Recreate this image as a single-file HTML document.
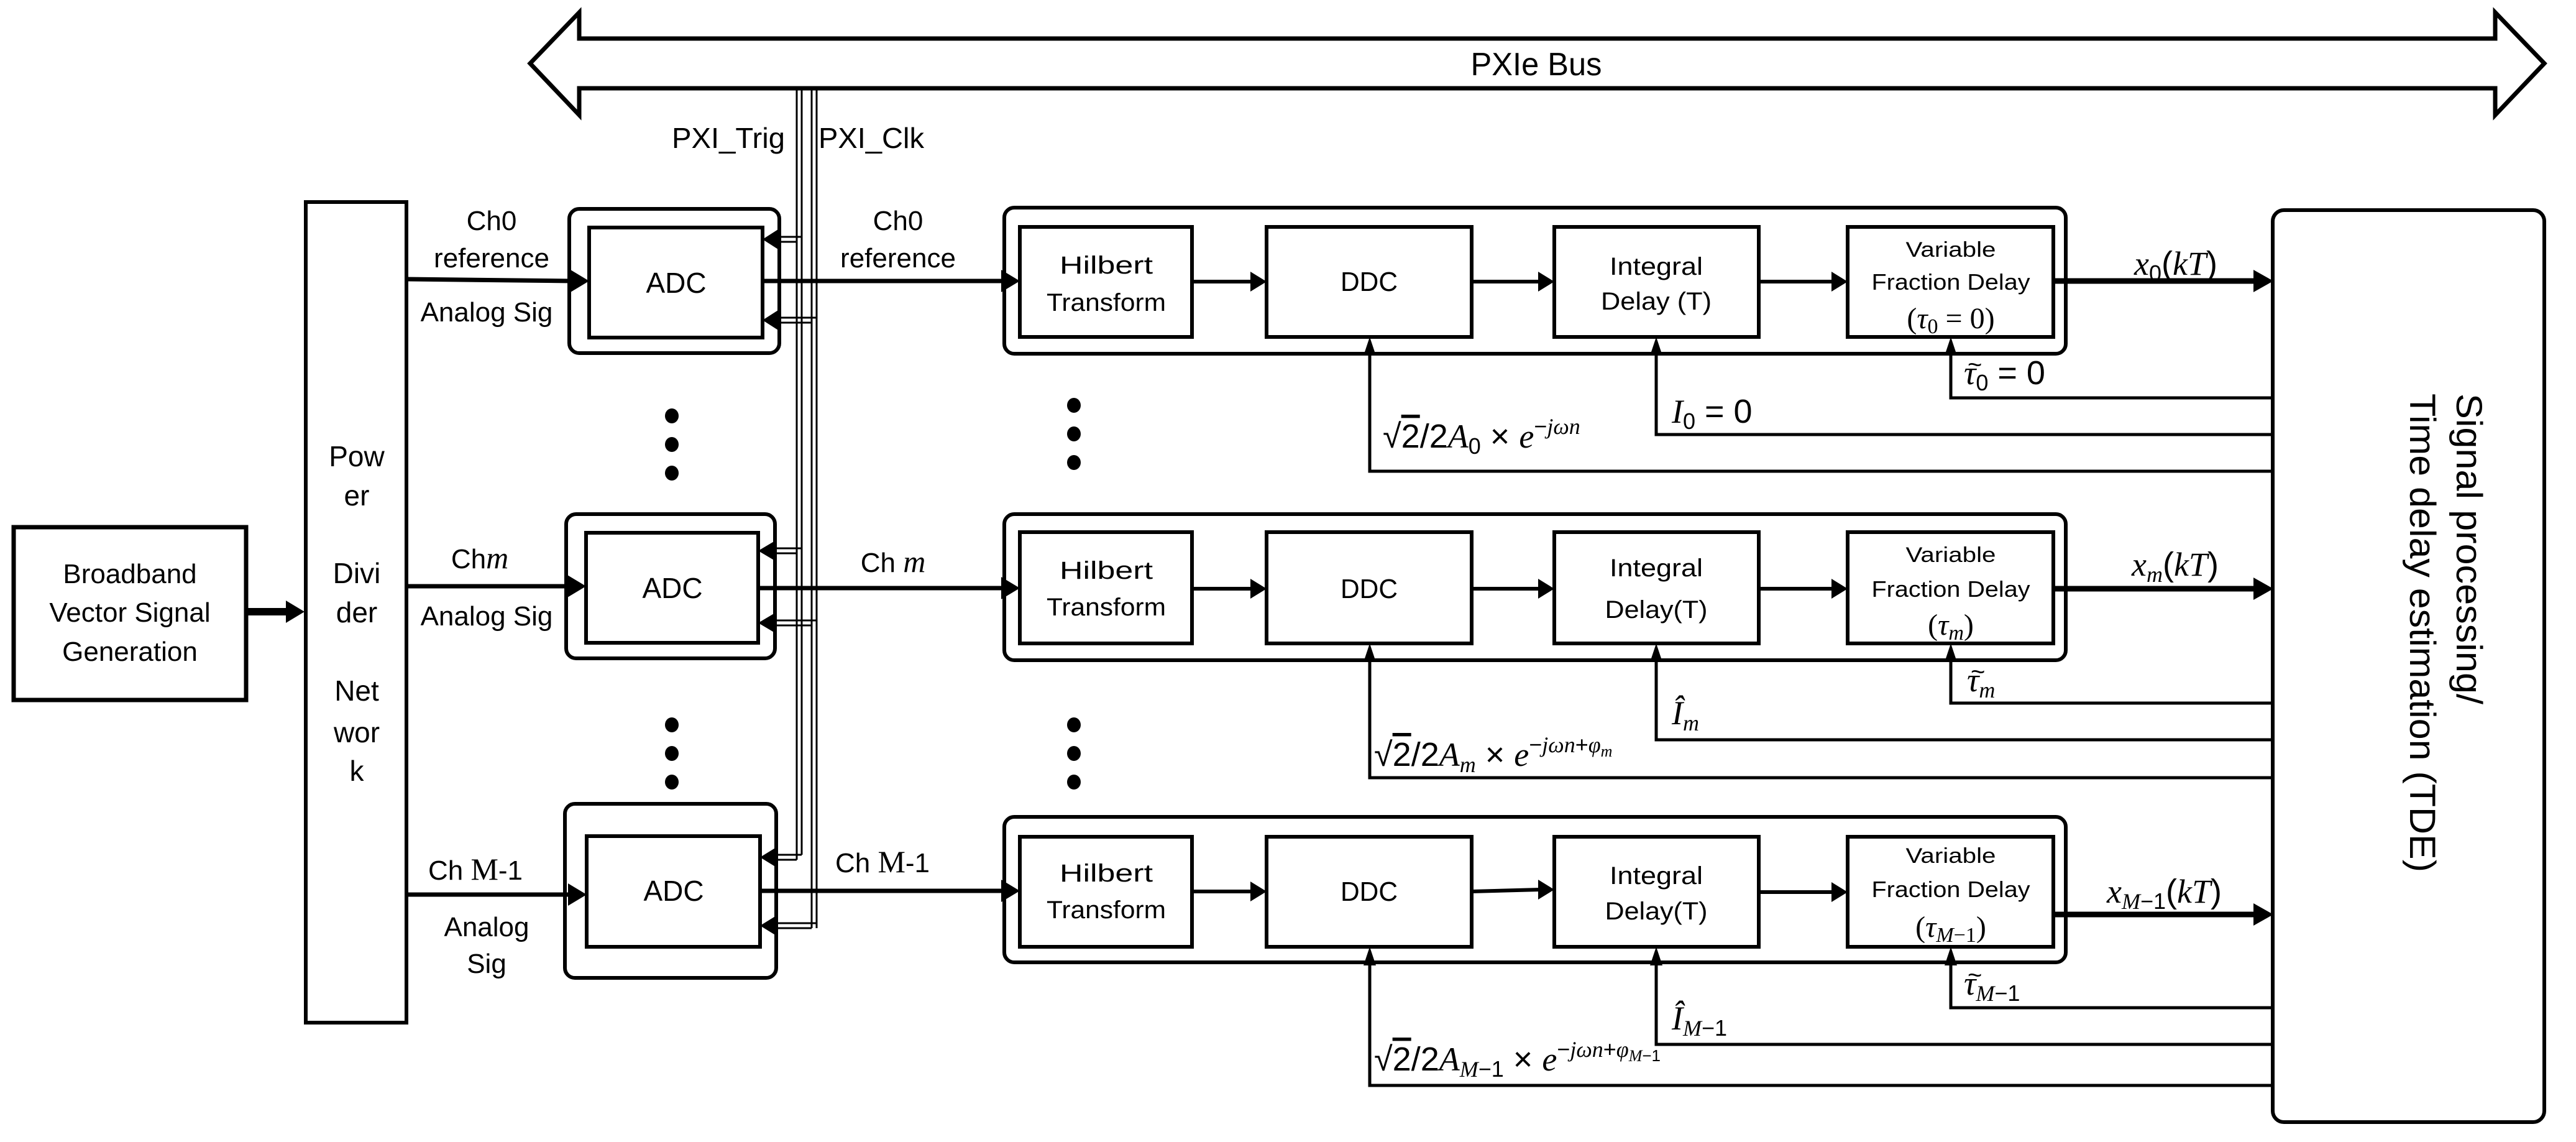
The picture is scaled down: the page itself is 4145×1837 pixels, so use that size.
<!DOCTYPE html>
<html><head><meta charset="utf-8"><style>
html,body{margin:0;padding:0;background:#fff;}
svg{display:block;}
text{font-family:"Liberation Sans",sans-serif;fill:#000;}
.m{font-family:"Liberation Serif",serif;font-style:italic;}
.up{font-family:"Liberation Serif",serif;font-style:normal;}
</style></head><body>
<svg width="4145" height="1837" viewBox="0 0 4145 1837" xmlns="http://www.w3.org/2000/svg">
<rect width="4145" height="1837" fill="#fff"/>
<polygon points="853,102 932,20 932,62 4015,62 4015,20 4094,102 4015,185 4015,142 932,142 932,185" fill="#fff" stroke="#000" stroke-width="7" stroke-linejoin="miter"/>
<text x="2472" y="121" font-size="52" text-anchor="middle" textLength="211" lengthAdjust="spacingAndGlyphs">PXIe Bus</text>
<text x="1172" y="238" font-size="46" text-anchor="middle" textLength="182" lengthAdjust="spacingAndGlyphs">PXI_Trig</text>
<text x="1402" y="238" font-size="46" text-anchor="middle" textLength="170" lengthAdjust="spacingAndGlyphs">PXI_Clk</text>

<g stroke="#000" stroke-width="3" fill="none">
<line x1="1282" y1="142" x2="1282" y2="1383"/>
<line x1="1290" y1="142" x2="1290" y2="1375"/>
<line x1="1306" y1="142" x2="1306" y2="1493"/>
<line x1="1314" y1="142" x2="1314" y2="1493"/>
</g>

<rect x="22" y="848" width="374" height="278" fill="none" stroke="#000" stroke-width="7"/>
<text x="209" y="938" font-size="44" text-anchor="middle">Broadband</text>
<text x="209" y="1000" font-size="44" text-anchor="middle">Vector Signal</text>
<text x="209" y="1063" font-size="44" text-anchor="middle">Generation</text>
<line x1="396" y1="984" x2="462" y2="984" stroke="#000" stroke-width="12"/>
<polygon points="490,984 460,966 460,1002" fill="#000"/>

<rect x="492" y="325" width="162" height="1320" fill="none" stroke="#000" stroke-width="6"/>
<g font-size="46" text-anchor="middle">
<text x="574" y="750">Pow</text>
<text x="574" y="813">er</text>
<text x="574" y="938">Divi</text>
<text x="574" y="1001">der</text>
<text x="574" y="1127">Net</text>
<text x="574" y="1194">wor</text>
<text x="574" y="1256">k</text>
</g>

<rect x="916" y="336" width="338" height="232" rx="16" fill="none" stroke="#000" stroke-width="6"/>
<rect x="948" y="366" width="279" height="177" fill="none" stroke="#000" stroke-width="6"/>
<text x="1088" y="471" font-size="46" text-anchor="middle">ADC</text>
<rect x="911" y="827" width="336" height="232" rx="16" fill="none" stroke="#000" stroke-width="6"/>
<rect x="943" y="857" width="277" height="177" fill="none" stroke="#000" stroke-width="6"/>
<text x="1082" y="962" font-size="46" text-anchor="middle">ADC</text>
<rect x="909" y="1293" width="340" height="280" rx="16" fill="none" stroke="#000" stroke-width="6"/>
<rect x="944" y="1345" width="279" height="178" fill="none" stroke="#000" stroke-width="6"/>
<text x="1084" y="1449" font-size="46" text-anchor="middle">ADC</text>

<g stroke="#000" stroke-width="7">
<line x1="654" y1="449" x2="920" y2="452"/>
<line x1="654" y1="943" x2="915" y2="943"/>
<line x1="654" y1="1439" x2="916" y2="1439"/>
</g>
<g fill="#000">
<polygon points="948,452 918,434 918,470"/>
<polygon points="943,943 913,925 913,961"/>
<polygon points="944,1439 914,1421 914,1457"/>
</g>
<g font-size="44" text-anchor="middle">
<text x="791" y="370">Ch0</text>
<text x="791" y="430">reference</text>
<text x="783" y="517">Analog Sig</text>
<text x="772" y="914">Ch<tspan class="m" font-size="50">m</tspan></text>
<text x="783" y="1006">Analog Sig</text>
<text x="765" y="1415">Ch <tspan class="up" font-size="50">M</tspan>-1</text>
<text x="783" y="1506">Analog</text>
<text x="783" y="1565">Sig</text>
<text x="1445" y="370">Ch0</text>
<text x="1445" y="430">reference</text>
<text x="1437" y="920">Ch <tspan class="m" font-size="50">m</tspan></text>
<text x="1420" y="1403">Ch <tspan class="up" font-size="50">M</tspan>-1</text>
</g>

<g stroke="#000" stroke-width="3" fill="none">
<line x1="1252" y1="381" x2="1290" y2="381"/><line x1="1252" y1="389" x2="1282" y2="389"/>
<line x1="1252" y1="511" x2="1314" y2="511"/><line x1="1252" y1="519" x2="1306" y2="519"/>
<line x1="1248" y1="882" x2="1290" y2="882"/><line x1="1248" y1="890" x2="1282" y2="890"/>
<line x1="1248" y1="998" x2="1314" y2="998"/><line x1="1248" y1="1006" x2="1306" y2="1006"/>
<line x1="1250" y1="1375" x2="1290" y2="1375"/><line x1="1250" y1="1383" x2="1282" y2="1383"/>
<line x1="1250" y1="1485" x2="1314" y2="1485"/><line x1="1250" y1="1493" x2="1306" y2="1493"/>
</g>
<g fill="#000">
<rect x="1240" y="381" width="14" height="8"/><rect x="1240" y="511" width="14" height="8"/>
<rect x="1236" y="882" width="14" height="8"/><rect x="1236" y="998" width="14" height="8"/>
<rect x="1238" y="1375" width="14" height="8"/><rect x="1238" y="1485" width="14" height="8"/>
<polygon points="1227,385 1252,369 1252,401"/>
<polygon points="1227,515 1252,499 1252,531"/>
<polygon points="1220,886 1247,870 1247,902"/>
<polygon points="1220,1002 1247,986 1247,1018"/>
<polygon points="1223,1379 1249,1363 1249,1395"/>
<polygon points="1223,1489 1249,1473 1249,1505"/>
</g>

<g stroke="#000" stroke-width="7">
<line x1="1227" y1="452" x2="1615" y2="452"/>
<line x1="1220" y1="946" x2="1615" y2="946"/>
<line x1="1223" y1="1433" x2="1615" y2="1433"/>
</g>
<g fill="#000">
<polygon points="1641,452 1611,434 1611,470"/>
<polygon points="1641,946 1611,928 1611,964"/>
<polygon points="1641,1433 1611,1415 1611,1451"/>
</g>

<g fill="#000">
<ellipse cx="1081" cy="669" rx="11" ry="12"/><ellipse cx="1081" cy="715" rx="11" ry="12"/><ellipse cx="1081" cy="761" rx="11" ry="12"/>
<ellipse cx="1081" cy="1166" rx="11" ry="12"/><ellipse cx="1081" cy="1212" rx="11" ry="12"/><ellipse cx="1081" cy="1258" rx="11" ry="12"/>
<ellipse cx="1728" cy="652" rx="11" ry="12"/><ellipse cx="1728" cy="698" rx="11" ry="12"/><ellipse cx="1728" cy="744" rx="11" ry="12"/>
<ellipse cx="1728" cy="1166" rx="11" ry="12"/><ellipse cx="1728" cy="1212" rx="11" ry="12"/><ellipse cx="1728" cy="1258" rx="11" ry="12"/>
</g>

<g fill="none" stroke="#000" stroke-width="6">
<rect x="1616" y="334" width="1708" height="235" rx="16"/>
<rect x="1641" y="365" width="277" height="177"/>
<rect x="2038" y="365" width="330" height="177"/>
<rect x="2501" y="365" width="329" height="177"/>
<rect x="2973" y="365" width="331" height="177"/>

<rect x="1616" y="827" width="1708" height="235" rx="16"/>
<rect x="1641" y="856" width="277" height="179"/>
<rect x="2038" y="856" width="330" height="179"/>
<rect x="2501" y="856" width="329" height="179"/>
<rect x="2973" y="856" width="331" height="179"/>

<rect x="1616" y="1314" width="1708" height="234" rx="16"/>
<rect x="1641" y="1346" width="277" height="177"/>
<rect x="2038" y="1346" width="330" height="177"/>
<rect x="2501" y="1346" width="329" height="177"/>
<rect x="2973" y="1346" width="331" height="177"/>
</g>
<g stroke="#000" stroke-width="6">
<line x1="1918" y1="453" x2="2015" y2="453"/><line x1="2368" y1="453" x2="2478" y2="453"/><line x1="2830" y1="453" x2="2950" y2="453"/>
<line x1="1918" y1="947" x2="2015" y2="947"/><line x1="2368" y1="947" x2="2478" y2="947"/><line x1="2830" y1="947" x2="2950" y2="947"/>
<line x1="1918" y1="1434" x2="2015" y2="1434"/><line x1="2368" y1="1434" x2="2478" y2="1431"/><line x1="2830" y1="1435" x2="2950" y2="1435"/>
</g>
<g fill="#000">
<polygon points="2038,453 2012,437 2012,469"/><polygon points="2501,453 2475,437 2475,469"/><polygon points="2973,453 2947,437 2947,469"/>
<polygon points="2038,947 2012,931 2012,963"/><polygon points="2501,947 2475,931 2475,963"/><polygon points="2973,947 2947,931 2947,963"/>
<polygon points="2038,1434 2012,1418 2012,1450"/><polygon points="2501,1431 2475,1415 2475,1447"/><polygon points="2973,1435 2947,1419 2947,1451"/>
</g>
<g font-size="40" text-anchor="middle">
<text x="1780" y="440" textLength="150" lengthAdjust="spacingAndGlyphs">Hilbert</text>
<text x="1780" y="500" textLength="192" lengthAdjust="spacingAndGlyphs">Transform</text>
<text x="2203" y="468" font-size="44" textLength="92" lengthAdjust="spacingAndGlyphs">DDC</text>
<text x="2665" y="442" textLength="150" lengthAdjust="spacingAndGlyphs">Integral</text>
<text x="2665" y="498" textLength="178" lengthAdjust="spacingAndGlyphs">Delay (T)</text>
<text x="3139" y="413" font-size="34" textLength="145" lengthAdjust="spacingAndGlyphs">Variable</text>
<text x="3139" y="466" font-size="36" textLength="255" lengthAdjust="spacingAndGlyphs">Fraction Delay</text>
<text x="3139" y="528" font-size="48" class="up">(<tspan class="m">τ</tspan><tspan font-size="34" dy="8">0</tspan><tspan dy="-8"> = 0)</tspan></text>

<text x="1780" y="931" textLength="150" lengthAdjust="spacingAndGlyphs">Hilbert</text>
<text x="1780" y="990" textLength="192" lengthAdjust="spacingAndGlyphs">Transform</text>
<text x="2203" y="962" font-size="44" textLength="92" lengthAdjust="spacingAndGlyphs">DDC</text>
<text x="2665" y="927" textLength="150" lengthAdjust="spacingAndGlyphs">Integral</text>
<text x="2665" y="994" textLength="165" lengthAdjust="spacingAndGlyphs">Delay(T)</text>
<text x="3139" y="904" font-size="34" textLength="145" lengthAdjust="spacingAndGlyphs">Variable</text>
<text x="3139" y="960" font-size="36" textLength="255" lengthAdjust="spacingAndGlyphs">Fraction Delay</text>
<text x="3139" y="1021" font-size="48" class="up">(<tspan class="m">τ</tspan><tspan font-size="34" dy="8" class="m">m</tspan><tspan dy="-8">)</tspan></text>

<text x="1780" y="1418" textLength="150" lengthAdjust="spacingAndGlyphs">Hilbert</text>
<text x="1780" y="1477" textLength="192" lengthAdjust="spacingAndGlyphs">Transform</text>
<text x="2203" y="1449" font-size="44" textLength="92" lengthAdjust="spacingAndGlyphs">DDC</text>
<text x="2665" y="1422" textLength="150" lengthAdjust="spacingAndGlyphs">Integral</text>
<text x="2665" y="1479" textLength="165" lengthAdjust="spacingAndGlyphs">Delay(T)</text>
<text x="3139" y="1388" font-size="34" textLength="145" lengthAdjust="spacingAndGlyphs">Variable</text>
<text x="3139" y="1443" font-size="36" textLength="255" lengthAdjust="spacingAndGlyphs">Fraction Delay</text>
<text x="3139" y="1507" font-size="48" class="up">(<tspan class="m">τ</tspan><tspan font-size="34" dy="8" class="m">M</tspan><tspan font-size="34">−1</tspan><tspan dy="-8">)</tspan></text>
</g>

<g stroke="#000" stroke-width="9">
<line x1="3304" y1="452" x2="3630" y2="452"/>
<line x1="3304" y1="947" x2="3630" y2="947"/>
<line x1="3304" y1="1471" x2="3630" y2="1471"/>
</g>
<g fill="#000">
<polygon points="3658,452 3626,434 3626,470"/>
<polygon points="3658,947 3626,929 3626,965"/>
<polygon points="3658,1471 3626,1453 3626,1489"/>
</g>
<g font-size="54" class="up">
<text x="3434" y="442"><tspan class="m">x</tspan><tspan font-size="36" dy="10">0</tspan><tspan dy="-10">(</tspan><tspan class="m">kT</tspan>)</text>
<text x="3430" y="926"><tspan class="m">x</tspan><tspan font-size="36" dy="10" class="m">m</tspan><tspan dy="-10">(</tspan><tspan class="m">kT</tspan>)</text>
<text x="3390" y="1452"><tspan class="m">x</tspan><tspan font-size="36" dy="10" class="m">M</tspan><tspan font-size="36">−1</tspan><tspan dy="-10">(</tspan><tspan class="m">kT</tspan>)</text>
</g>

<rect x="3657" y="338" width="437" height="1467" rx="18" fill="none" stroke="#000" stroke-width="6"/>
<text transform="translate(3953,883) rotate(90)" font-size="58" text-anchor="middle" textLength="500" lengthAdjust="spacingAndGlyphs">Signal processing/</text>
<text transform="translate(3878,1018) rotate(90)" font-size="58" text-anchor="middle" textLength="770" lengthAdjust="spacingAndGlyphs">Time delay estimation (TDE)</text>

<g stroke="#000" stroke-width="5" fill="none">
<polyline points="3139,562 3139,640 3657,640"/>
<polyline points="2665,562 2665,699 3657,699"/>
<polyline points="2204,562 2204,758 3657,758"/>
<polyline points="3139,1055 3139,1131 3657,1131"/>
<polyline points="2665,1055 2665,1190 3657,1190"/>
<polyline points="2204,1055 2204,1251 3657,1251"/>
<polyline points="3139,1543 3139,1621 3657,1621"/>
<polyline points="2665,1543 2665,1680 3657,1680"/>
<polyline points="2204,1543 2204,1746 3657,1746"/>
</g>
<g fill="#000">
<polygon points="3139,542 3129,572 3149,572"/><polygon points="2665,542 2655,572 2675,572"/><polygon points="2204,542 2194,572 2214,572"/>
<polygon points="3139,1035 3129,1065 3149,1065"/><polygon points="2665,1035 2655,1065 2675,1065"/><polygon points="2204,1035 2194,1065 2214,1065"/>
<polygon points="3139,1523 3129,1553 3149,1553"/><polygon points="2665,1523 2655,1553 2675,1553"/><polygon points="2204,1523 2194,1553 2214,1553"/>
</g>

<g font-size="54" class="up">
<text x="3160" y="618"><tspan class="m">τ</tspan><tspan font-size="36" dy="10">0</tspan><tspan dy="-10"> = 0</tspan></text>
<text x="3166" y="600" font-size="40">~</text>
<text x="2690" y="680"><tspan class="m">I</tspan><tspan font-size="36" dy="10">0</tspan><tspan dy="-10"> = 0</tspan></text>
<text x="2225" y="720">√<tspan text-decoration="overline">2</tspan>/2<tspan class="m">A</tspan><tspan font-size="36" dy="10">0</tspan><tspan dy="-10"> × </tspan><tspan class="m">e</tspan><tspan font-size="36" dy="-22">−</tspan><tspan font-size="36" class="m">jωn</tspan></text>

<text x="3165" y="1112"><tspan class="m">τ</tspan><tspan font-size="36" dy="10" class="m">m</tspan></text>
<text x="3171" y="1094" font-size="40">~</text>
<text x="2690" y="1165"><tspan class="m">Î</tspan><tspan font-size="36" dy="10" class="m">m</tspan></text>
<text x="2211" y="1232">√<tspan text-decoration="overline">2</tspan>/2<tspan class="m">A</tspan><tspan font-size="36" dy="10" class="m">m</tspan><tspan dy="-10"> × </tspan><tspan class="m">e</tspan><tspan font-size="36" dy="-22">−</tspan><tspan font-size="36" class="m">jωn</tspan><tspan font-size="36">+</tspan><tspan font-size="36" class="m">φ</tspan><tspan font-size="26" dy="7" class="m">m</tspan></text>

<text x="3160" y="1600"><tspan class="m">τ</tspan><tspan font-size="36" dy="10" class="m">M</tspan><tspan font-size="36">−1</tspan></text>
<text x="3166" y="1582" font-size="40">~</text>
<text x="2690" y="1656"><tspan class="m">Î</tspan><tspan font-size="36" dy="10" class="m">M</tspan><tspan font-size="36">−1</tspan></text>
<text x="2211" y="1722">√<tspan text-decoration="overline">2</tspan>/2<tspan class="m">A</tspan><tspan font-size="36" dy="10" class="m">M</tspan><tspan font-size="36">−1</tspan><tspan dy="-10"> × </tspan><tspan class="m">e</tspan><tspan font-size="36" dy="-22">−</tspan><tspan font-size="36" class="m">jωn</tspan><tspan font-size="36">+</tspan><tspan font-size="36" class="m">φ</tspan><tspan font-size="26" dy="7" class="m">M</tspan><tspan font-size="26">−1</tspan></text>
</g>
</svg>
</body></html>
